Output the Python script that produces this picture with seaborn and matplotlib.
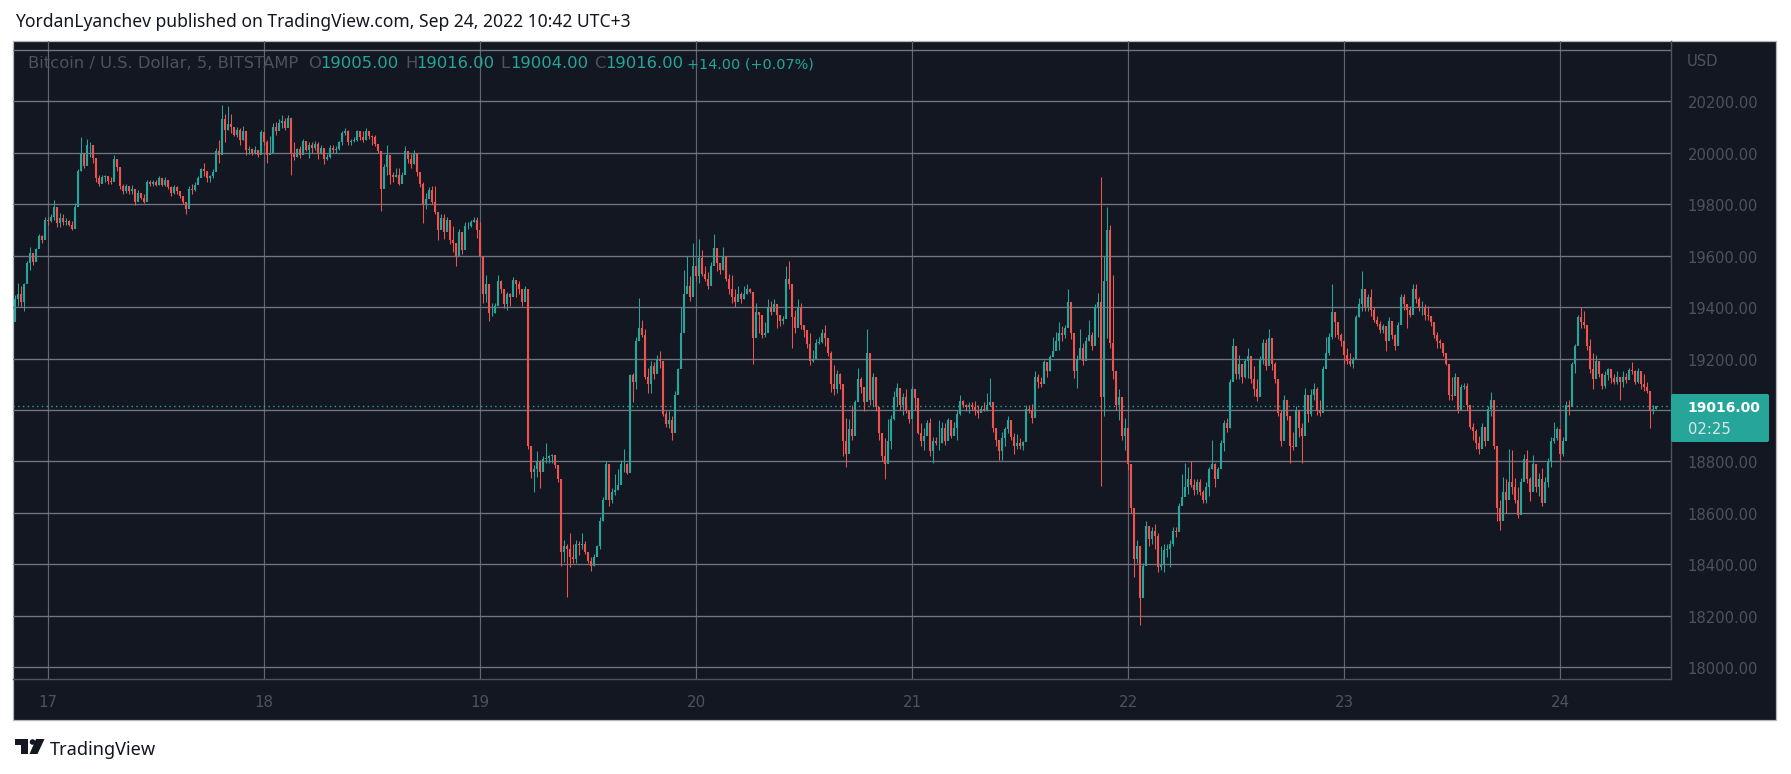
import matplotlib
matplotlib.use("Agg")
import matplotlib.pyplot as plt
from matplotlib.patches import Rectangle, Polygon, Circle, FancyBboxPatch
from matplotlib.transforms import ScaledTranslation
import numpy as np
import pandas as pd
import seaborn as sns

# BTC/USD bars as (low, high, close); each bar opens at the previous close.
sep16 = [(19355,19445,19430),(19405,19495,19450),(19400,19480,19420),(19385,19495,19490),(19495,19580,19570),
 (19545,19635,19610),(19565,19610,19575),(19580,19630,19625),(19650,19685,19675),(19650,19680,19660),(19680,19750,19740)]
sep17 = [(19720,19750,19735),(19730,19760,19750),(19740,19815,19790),(19710,19760,19725),(19710,19765,19745),(19720,19760,19730),
 (19720,19745,19735),(19715,19740,19720),(19700,19735,19705),(19730,19805,19790),(19795,19935,19930),(19930,20060,20000),
 (19940,20000,19950),(19970,20055,20030),(19985,20040,20030),(19960,20015,19980),(19885,19940,19900),(19870,19915,19880),
 (19885,19915,19905),(19885,19915,19910),(19880,19900,19890),(19880,19905,19885),(19900,19990,19975),(19930,19975,19945),
 (19860,19940,19870),(19840,19880,19850),(19845,19880,19870),(19840,19870,19850),(19840,19875,19860),(19795,19840,19810),
 (19825,19855,19845),(19820,19840,19825),(19805,19840,19810),(19850,19895,19885),(19870,19895,19880),(19870,19895,19885),
 (19870,19895,19875),(19875,19910,19900),(19870,19895,19875),(19870,19905,19895),(19860,19885,19865),(19830,19870,19845),
 (19840,19875,19865),(19840,19870,19850),(19825,19840,19830),(19800,19825,19810),(19760,19805,19780),(19805,19870,19860),
 (19840,19880,19855),(19850,19885,19875),(19880,19910,19900),(19910,19940,19935),(19910,19960,19930),(19885,19930,19900),
 (19885,19915,19910),(19900,19935,19925),(19960,20020,20005),(19960,20050,19990),(20040,20186,20130),(20040,20150,20090),
 (20090,20183,20110),(20075,20150,20100),(20065,20100,20070),(20060,20100,20090),(20030,20095,20050),(20050,20105,20085),
 (19990,20060,20010),(19995,20025,20015),(19990,20020,20000),(19995,20025,20010),(19985,20010,19990),(20020,20090,20080)]
sep18 = [(20030,20075,20040),(19960,20050,19990),(19995,20065,20000),(20030,20115,20100),(20070,20120,20085),(20090,20130,20115),
 (20095,20145,20125),(20090,20135,20095),(20115,20145,20135),(19915,20130,20000),(19970,20040,19985),(19985,20020,20015),
 (19980,20025,19990),(20000,20055,20045),(20005,20040,20010),(19980,20040,20030),(20000,20040,20020),(20010,20045,20035),
 (19975,20040,20000),(19995,20030,20020),(19955,20015,19975),(19970,19995,19985),(19980,20030,20020),(20000,20030,20010),
 (20000,20025,20015),(20010,20045,20040),(20030,20085,20075),(20070,20095,20085),(20030,20090,20040),(20030,20055,20045),
 (20040,20060,20050),(20045,20090,20085),(20050,20085,20060),(20040,20085,20050),(20050,20095,20085),(20055,20075,20065),
 (20030,20070,20060),(20025,20070,20035),(20000,20015,20005),(19775,20005,19860),(19870,19955,19945),(19915,20030,19990),
 (19880,19940,19915),(19885,19925,19905),(19905,19940,19915),(19875,19940,19880),(19885,19925,19915),(19940,20025,20005),
 (19960,20005,19975),(19940,19995,19955),(19955,20010,20000),(19910,19995,19925),(19865,19910,19880),(19725,19885,19800),
 (19780,19845,19820),(19825,19865,19855),(19800,19870,19810),(19760,19870,19770),(19660,19760,19700),(19705,19760,19745),
 (19665,19760,19690),(19705,19750,19740),(19645,19740,19660),(19615,19715,19650),(19560,19640,19600),(19615,19705,19690),
 (19605,19675,19620),(19690,19730,19715),(19705,19730,19715),(19710,19740,19730),(19730,19750,19740),(19670,19750,19700)]
sep19 = [(19600,19730,19600),(19415,19560,19450),(19420,19525,19490),(19345,19485,19375),(19365,19415,19375),(19375,19415,19405),
 (19440,19525,19500),(19455,19505,19470),(19395,19460,19410),(19390,19460,19450),(19405,19455,19440),(19460,19515,19505),
 (19440,19500,19490),(19450,19500,19470),(19405,19470,19420),(19450,19480,19470),(18850,19450,18860),(18735,18850,18760),
 (18680,18785,18770),(18740,18840,18800),(18695,18805,18760),(18780,18820,18810),(18795,18870,18815),(18795,18825,18820),
 (18795,18830,18825),(18775,18820,18785),(18720,18785,18730),(18395,18730,18450),(18410,18495,18470),(18275,18480,18460),
 (18390,18520,18430),(18405,18480,18420),(18405,18495,18480),(18435,18490,18475),(18460,18520,18480),(18440,18490,18450),
 (18405,18440,18415),(18375,18430,18395),(18395,18440,18430),(18440,18475,18470),(18460,18585,18570),(18570,18660,18650),
 (18700,18800,18790),(18625,18730,18650),(18640,18695,18680),(18670,18750,18690),(18690,18770,18710),(18735,18805,18790),
 (18760,18850,18790),(18750,18795,18755),(18830,19140,19135),(19030,19145,19110),(19080,19285,19270),(19285,19435,19320),
 (19285,19350,19290),(19120,19315,19130),(19065,19165,19100),(19065,19190,19170),(19120,19185,19140),(19170,19215,19200),
 (19165,19230,19190),(18975,19160,18985),(18935,18995,18945),(18930,18995,18960),(18885,18975,18910),(18995,19075,19060),
 (19065,19165,19160),(19170,19400,19300),(19395,19545,19450),(19460,19600,19480),(19425,19520,19440),(19510,19650,19560)]
sep20 = [(19500,19560,19520),(19495,19665,19590),(19520,19620,19530),(19500,19560,19510),(19470,19535,19480),(19510,19575,19560),
 (19570,19685,19630),(19540,19585,19570),(19530,19565,19545),(19545,19635,19600),(19500,19585,19510),(19450,19530,19470),
 (19415,19525,19440),(19400,19470,19420),(19435,19480,19450),(19415,19460,19430),(19430,19480,19450),(19450,19490,19470),
 (19455,19475,19460),(19180,19455,19280),(19285,19415,19380),(19300,19380,19370),(19280,19350,19290),(19285,19340,19300),
 (19320,19430,19400),(19370,19425,19380),(19385,19430,19410),(19320,19400,19370),(19325,19365,19345),(19335,19365,19355),
 (19365,19560,19510),(19470,19580,19490),(19240,19470,19360),(19300,19390,19320),(19340,19430,19400),(19315,19415,19330),
 (19285,19325,19310),(19240,19295,19255),(19175,19300,19190),(19185,19235,19200),(19210,19275,19260),(19255,19285,19265),
 (19260,19315,19300),(19250,19330,19280),(19210,19270,19220),(19070,19230,19100),(19060,19175,19080),(19065,19155,19140),
 (19080,19145,19100),(18820,19080,18880),(18780,18970,18830),(18860,18965,18925),(18885,19020,18900),(18930,19040,19030),
 (19055,19165,19120),(19065,19130,19090),(18995,19080,19030),(19130,19315,19220),(19020,19220,19040),(19015,19145,19130),
 (18995,19105,19010),(18885,19000,18910),(18800,18880,18820),(18730,18890,18790),(18860,18965,18880),(18850,18980,18965),
 (18960,19075,19050),(19015,19105,19085),(19000,19080,19020),(18980,19065,19050),(18990,19080,19000),(18950,18975,18965)]
sep21 = [(18990,19095,19080),(19000,19060,19045),(18905,19005,18910),(18860,18950,18880),(18845,18930,18900),(18910,18960,18950),
 (18820,18970,18840),(18795,18895,18880),(18865,18895,18870),(18845,18960,18870),(18870,18955,18930),(18865,18950,18880),
 (18930,18970,18960),(18890,18960,18900),(18910,18955,18930),(18885,19000,18985),(18980,19060,19035),(19010,19040,19020),
 (18995,19025,19010),(18990,19030,19020),(19000,19030,19010),(18980,19035,19000),(18970,19020,18990),(18995,19015,19005),
 (18995,19030,19000),(18995,19065,19020),(19015,19125,19030),(18915,19000,18930),(18860,18925,18885),(18805,18885,18840),
 (18805,18915,18890),(18860,18935,18925),(18910,18975,18960),(18885,18950,18895),(18830,18910,18860),(18850,18905,18870),
 (18850,18890,18860),(18845,18880,18875),(18915,19020,19005),(18990,19020,19000),(18950,19025,18970),(18990,19150,19130),
 (19085,19140,19110),(19090,19130,19100),(19135,19195,19185),(19130,19185,19150),(19150,19215,19205),(19215,19285,19230),
 (19235,19305,19270),(19235,19340,19300),(19270,19325,19290),(19280,19330,19320),(19350,19470,19420),(19275,19400,19300),
 (19125,19275,19150),(19085,19215,19200),(19220,19315,19240),(19175,19260,19190),(19210,19285,19270),(19270,19350,19290),
 (19235,19305,19250),(19275,19410,19400),(19285,19455,19420),(18705,19905,19050),(18975,19600,19500),(19280,19790,19700),
 (19240,19720,19260),(19120,19525,19150),(19000,19120,19020),(18960,19080,19050),(18885,19000,18900),(18845,18970,18930)]
sep22 = [(18765,18930,18790),(18600,18740,18620),(18350,18560,18420),(18405,18495,18470),(18165,18380,18270),(18345,18405,18395),
 (18430,18570,18550),(18470,18545,18500),(18480,18545,18530),(18460,18555,18510),(18370,18520,18390),(18380,18470,18400),
 (18370,18480,18455),(18430,18480,18460),(18390,18495,18480),(18470,18545,18530),(18505,18545,18525),(18530,18640,18625),
 (18650,18750,18660),(18675,18795,18700),(18675,18780,18730),(18700,18800,18710),(18670,18730,18690),(18675,18730,18720),
 (18670,18730,18680),(18640,18690,18650),(18640,18720,18700),(18665,18780,18770),(18770,18885,18790),(18700,18795,18730),
 (18740,18780,18770),(18800,18885,18870),(18840,18960,18950),(18915,18970,18930),(18930,19120,19110),(19135,19280,19250),
 (19120,19225,19140),(19120,19215,19180),(19105,19170,19130),(19125,19200,19190),(19125,19240,19210),(19105,19195,19120),
 (19055,19170,19080),(19035,19120,19050),(19080,19210,19195),(19180,19275,19260),(19155,19275,19170),(19210,19315,19280),
 (19155,19220,19180),(19105,19185,19120),(18975,19090,18990),(18860,19000,18880),(18970,19060,19040),(18960,19040,18975),
 (18795,18935,18860),(18845,18915,18855),(18910,19015,19000),(18895,18990,18930),(18795,18950,18900),(18980,19085,19060),
 (18955,19040,18985),(18975,19080,19060),(19040,19105,19080),(18980,19090,19000),(18975,19040,18990),(19055,19170,19160),
 (19200,19285,19220),(19215,19300,19285),(19275,19490,19380),(19285,19360,19340),(19275,19320,19290),(19250,19300,19270)]
sep23 = [(19180,19265,19215),(19180,19240,19190),(19170,19220,19180),(19165,19205,19200),(19235,19370,19360),(19360,19435,19410),
 (19385,19540,19470),(19385,19470,19400),(19385,19450,19440),(19365,19470,19390),(19340,19400,19350),(19325,19365,19335),
 (19300,19345,19310),(19300,19335,19325),(19230,19325,19270),(19320,19360,19345),(19275,19325,19290),(19235,19295,19250),
 (19290,19340,19330),(19360,19450,19440),(19390,19450,19410),(19320,19410,19390),(19360,19405,19370),(19415,19490,19470),
 (19415,19490,19430),(19385,19440,19395),(19370,19425,19400),(19350,19410,19370),(19350,19405,19365),(19325,19360,19340),
 (19280,19335,19290),(19240,19305,19270),(19240,19275,19260),(19210,19255,19220),(19175,19210,19180),(19040,19175,19060),
 (19040,19130,19055),(19090,19145,19130),(18990,19055,19000),(19040,19100,19090),(19080,19105,19095),(19000,19105,19020),
 (18925,19000,18935),(18885,18950,18920),(18850,18925,18870),(18830,18900,18850),(18885,18950,18935),(18860,18905,18880),
 (18885,19015,19005),(18975,19070,19040),(18850,18975,18860),(18570,18860,18620),(18535,18650,18570),(18630,18740,18680),
 (18600,18730,18650),(18690,18850,18720),(18675,18845,18700),(18640,18735,18650),(18580,18700,18590),(18620,18735,18720),
 (18730,18830,18810),(18715,18845,18730),(18645,18740,18680),(18700,18825,18790),(18680,18770,18700),(18665,18755,18730),
 (18625,18775,18640),(18655,18740,18720),(18700,18815,18800),(18780,18895,18880),(18870,18955,18890),(18885,18935,18925)]
sep24 = [(18805,18885,18830),(18820,18895,18880),(18905,19035,19020),(18980,19040,19010),(19040,19185,19180),(19145,19255,19250),
 (19285,19370,19360),(19320,19400,19340),(19320,19385,19330),(19235,19310,19250),(19145,19275,19160),(19080,19220,19120),
 (19140,19215,19190),(19130,19185,19140),(19080,19145,19095),(19085,19150,19135),(19115,19165,19160),(19105,19150,19125),
 (19100,19140,19110),(19100,19150,19130),(19040,19120,19110),(19090,19150,19130),(19105,19145,19115),(19140,19165,19155),
 (19140,19185,19150),(19100,19155,19110),(19105,19165,19150),(19080,19150,19100),(19075,19140,19090),(19065,19110,19075),
 (18930,19040,18995),(18985,19020,19005),(19004,19016,19016)]

day_ticks = [17, 18, 19, 20, 21, 22, 23, 24]
price_ticks = [18000, 18200, 18400, 18600, 18800, 19000, 19200, 19400, 19600, 19800, 20000, 20200, 20400]
last_open, last_high, last_low, last_close = 19005.00, 19016.00, 19004.00, 19016.00
last_change, last_change_pct = 14.00, 0.07
countdown = "02:25"
header = "YordanLyanchev published on TradingView.com, Sep 24, 2022 10:42 UTC+3"
symbol = "Bitcoin / U.S. Dollar, 5, BITSTAMP"

UP, DOWN = "#26a69a", "#ef5350"
BG, GRID, SEP, MUTED = "#131722", "#6a6d78", "#50535e", "#4c525e"
W, H = 1791, 774


def bars_for(rows, start, step=None):
    step = step if step is not None else 1 / len(rows)
    return pd.DataFrame(rows, columns=["low", "high", "close"]).assign(
        day=[start + i * step for i in range(len(rows))])


frames = [bars_for(sep16, 17 - len(sep16) / 72, 1 / 72)]
for d, rows in zip(day_ticks[:-1], [sep17, sep18, sep19, sep20, sep21, sep22, sep23]):
    frames.append(bars_for(rows, d))
frames.append(bars_for(sep24, 24, 1 / 72))
bars = pd.concat(frames, ignore_index=True)
bars["open"] = bars["close"].shift(1).fillna(19340.0)
bars["bar"] = bars.index
bars["direction"] = np.where(bars["close"] >= bars["open"], "up", "down")

wicks = bars.melt(id_vars=["bar", "day", "direction"], value_vars=["low", "high"], value_name="price")
bodies = bars.melt(id_vars=["bar", "day", "direction"], value_vars=["open", "close"], value_name="price")

sns.set_theme(style="dark", rc={"font.family": ["DejaVu Sans"]})
fig = plt.figure(figsize=(W / 100, H / 100), dpi=100, facecolor="white")


def px_rect(x0, y0, x1, y1):
    return [x0 / W, 1 - y1 / H, (x1 - x0) / W, (y1 - y0) / H]


fr = px_rect(13, 41, 1776, 720)
fig.add_artist(Rectangle((fr[0], fr[1]), fr[2], fr[3], transform=fig.transFigure,
                         facecolor=BG, edgecolor="#b2b5be", linewidth=0.9, zorder=-1))
ax = fig.add_axes(px_rect(13, 41, 1671, 679), facecolor=BG)
ax.patch.set_alpha(0)

palette = {"up": UP, "down": DOWN}
sns.lineplot(data=wicks, x="day", y="price", hue="direction", units="bar", estimator=None, palette=palette,
             linewidth=0.75, legend=False, ax=ax, solid_capstyle="butt", zorder=3)
sns.lineplot(data=bodies, x="day", y="price", hue="direction", units="bar", estimator=None, palette=palette,
             linewidth=1.5, legend=False, ax=ax, solid_capstyle="butt", zorder=3)

ax.set_xlim(17 - 35.2 / 216, 17 + (1671 - 48.2) / 216)
ax.set_ylim(17954.5, 20434)
ax.set_xlabel("")
ax.set_ylabel("")
ax.set_xticks(day_ticks)
ax.set_xticklabels([str(d) for d in day_ticks])
ax.set_yticks(price_ticks)
ax.set_yticklabels(["" if p in (19000, 20400) else f"{p:.2f}" for p in price_ticks])
ax.yaxis.tick_right()
ax.tick_params(axis="y", length=0, pad=12, labelsize=10.6, labelcolor=MUTED)
ax.tick_params(axis="x", length=0, pad=11.5, labelsize=10.8, labelcolor=MUTED)
nudge = ScaledTranslation(0, -1 / 100, fig.dpi_scale_trans)
for label in ax.get_yticklabels():
    label.set_transform(label.get_transform() + nudge)
ax.grid(True, axis="y", color="#72757f", linewidth=0.95, zorder=1)
ax.grid(True, axis="x", color="#62656f", linewidth=0.85, zorder=1)
ax.set_axisbelow(True)
for name, spine in ax.spines.items():
    spine.set_visible(name in ("right", "bottom"))
    spine.set_color(SEP)
    spine.set_linewidth(1.0)

ax.axhline(last_close, color=UP, linewidth=1.0, linestyle=(0, (1, 2.4)), zorder=2)

# Running text above the plot and inside it
fig.text(15 / W, 1 - 22 / H, header, fontsize=12.6, family="Noto Sans", color="#131722", va="center")
legend_y = 1 - 64 / H
for x, txt, col, size in [(28, symbol, MUTED, 11.8), (308, "O", MUTED, 11.8), (320, f"{last_open:.2f}", UP, 11.8),
                          (405, "H", MUTED, 11.8), (416, f"{last_high:.2f}", UP, 11.8), (500, "L", MUTED, 11.8),
                          (510, f"{last_low:.2f}", UP, 11.8), (594, "C", MUTED, 11.8), (605, f"{last_close:.2f}", UP, 11.8),
                          (687, f"+{last_change:.2f} (+{last_change_pct:.2f}%)", UP, 10.4)]:
    fig.text(x / W, legend_y, txt, fontsize=size, color=col, va="center")
fig.text(1687 / W, 1 - 61 / H, "USD", fontsize=10.6, color=MUTED, va="center")

# Last-price tag
fig.add_artist(FancyBboxPatch((1671, H - 442), 98, 48, boxstyle="round,pad=0,rounding_size=2",
                              transform=None, facecolor=UP, edgecolor="none", zorder=5))
fig.text(1687 / W, 1 - 408 / H, f"{last_close:.2f}", fontsize=10, fontweight="bold", color="white", va="center", zorder=6)
fig.text(1688 / W, 1 - 430 / H, countdown, fontsize=10.6, color="#dfe3e6", va="center", zorder=6)

# Footer logo and wordmark
for poly in ([(15, 739), (28, 739), (28, 754), (21, 754), (21, 745), (15, 745)],
             [(36, 739), (44.5, 739), (37.5, 754), (29.5, 754)]):
    fig.add_artist(Polygon([(x, H - y) for x, y in poly], closed=True, transform=None, facecolor=BG, edgecolor="none"))
fig.add_artist(Circle((32.5, H - 742), 2.8, transform=None, facecolor=BG, edgecolor="none"))
fig.text(50 / W, 1 - 750 / H, "TradingView", fontsize=13.1, family="Noto Sans", color=BG, va="center")

fig.savefig("out.png", dpi=100, facecolor="white")
